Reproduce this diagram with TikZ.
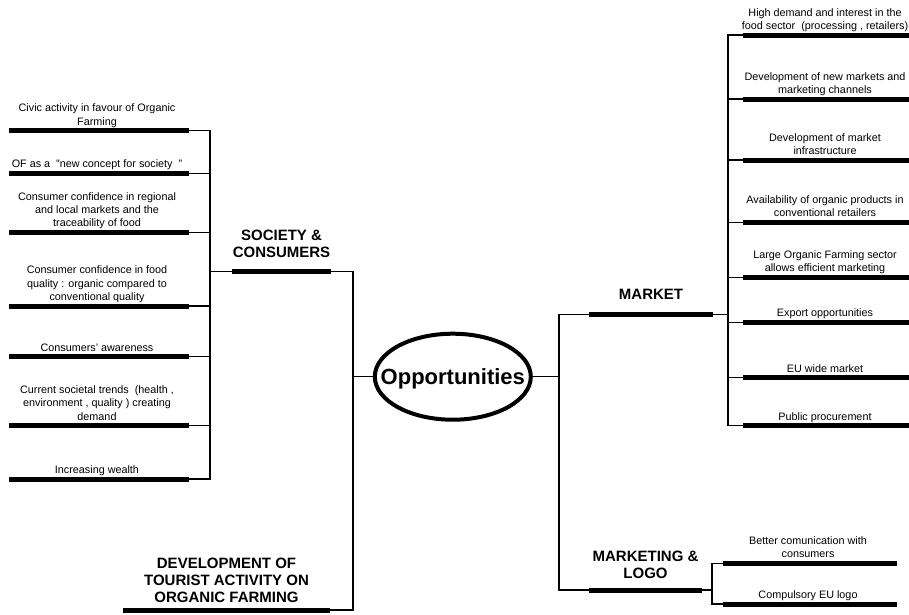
\documentclass[tikz,border=0pt]{standalone}
\usepackage{fontspec}
\setmainfont{Liberation Sans}
\usetikzlibrary{shapes.geometric}
\begin{document}
\begin{tikzpicture}[x=1pt,y=-1pt,
  bar/.style={rectangle, fill=black, draw=none, minimum height=5pt, inner sep=0pt, outer sep=0pt},
  conn/.style={line width=1.2pt, line join=miter},
  leaf/.style={font=\fontsize{10.8}{13.3}\selectfont, align=center, inner sep=0pt, text depth=2pt, anchor=south},
  head/.style={font=\fontsize{15}{17}\selectfont\bfseries, align=center, inner sep=0pt, text depth=0pt, anchor=south}]
\useasboundingbox (0,0) rectangle (909,614);

% trunk coordinates
\coordinate (tL) at (210,0);
\coordinate (t0) at (353,0);
\coordinate (t1) at (559,0);
\coordinate (tM) at (728,0);
\coordinate (tB) at (712,0);

% centre
\node[ellipse, draw, line width=4pt, minimum width=156pt, minimum height=86pt, inner sep=0pt] (O) at (452.8,376.7) {};
\node[font=\fontsize{22}{24}\selectfont\bfseries, inner sep=0pt, anchor=base] (Ot) at ([yshift=-8pt]O.center) {Opportunities};

% left leaves
\node[bar, minimum width=180pt] (L1) at (99,130.7) {};
\node[bar, minimum width=180pt] (L2) at (99,173.3) {};
\node[bar, minimum width=180pt] (L3) at (99,232.3) {};
\node[bar, minimum width=180pt] (L4) at (99,306) {};
\node[bar, minimum width=180pt] (L5) at (99,356.7) {};
\node[bar, minimum width=180pt] (L6) at (99,425.7) {};
\node[bar, minimum width=180pt] (L7) at (99,479) {};
\node[leaf] (L1t) at ([xshift=-2pt,yshift=1pt]L1.north) {Civic activity in favour of Organic\\Farming};
\node[leaf] (L2t) at ([xshift=-2pt,yshift=1pt]L2.north) {OF as a ~"new concept for society~~"};
\node[leaf] (L3t) at ([xshift=-2pt,yshift=1pt]L3.north) {Consumer confidence in regional\\and local markets and the\\traceability of food};
\node[leaf] (L4t) at ([xshift=-2pt,yshift=1pt]L4.north) {Consumer confidence in food\\quality : organic compared to\\conventional quality};
\node[leaf] (L5t) at ([xshift=-2pt,yshift=1pt]L5.north) {Consumers' awareness};
\node[leaf] (L6t) at ([xshift=-2pt,yshift=1pt]L6.north) {Current societal trends~ (health ,\\environment , quality ) creating\\demand};
\node[leaf] (L7t) at ([xshift=-2pt,yshift=1pt]L7.north) {Increasing wealth};

% society & consumers
\node[bar, minimum width=99pt] (SC) at (281.5,271.7) {};
\node[head] (SCt) at ([yshift=11.2pt]SC.north) {SOCIETY \&\\CONSUMERS};

% tourist
\node[bar, minimum width=207pt] (DT) at (226.5,610) {};
\node[head] (DTt) at ([yshift=4.5pt]DT.north) {DEVELOPMENT OF\\TOURIST ACTIVITY ON\\ORGANIC FARMING};

% market
\node[bar, minimum width=124pt] (MK) at (651,314.3) {};
\node[head] (MKt) at ([yshift=11.8pt]MK.north) {MARKET};

% right leaves
\node[bar, minimum width=172pt] (R1) at (829,35) {};
\node[bar, minimum width=172pt] (R2) at (829,99) {};
\node[bar, minimum width=172pt] (R3) at (829,160) {};
\node[bar, minimum width=172pt] (R4) at (829,222.3) {};
\node[bar, minimum width=172pt] (R5) at (829,277.3) {};
\node[bar, minimum width=172pt] (R6) at (829,322.3) {};
\node[bar, minimum width=172pt] (R7) at (829,377.7) {};
\node[bar, minimum width=172pt] (R8) at (829,425.7) {};
\node[leaf] (R1t) at ([xshift=-4pt,yshift=1pt]R1.north) {High demand and interest in the\\food sector~ (processing , retailers)};
\node[leaf] (R2t) at ([xshift=-4pt,yshift=1pt]R2.north) {Development of new markets and\\marketing channels};
\node[leaf] (R3t) at ([xshift=-4pt,yshift=1pt]R3.north) {Development of market\\infrastructure};
\node[leaf] (R4t) at ([xshift=-4pt,yshift=1pt]R4.north) {Availability of organic products in\\conventional retailers};
\node[leaf] (R5t) at ([xshift=-4pt,yshift=1pt]R5.north) {Large Organic Farming sector\\allows efficient marketing};
\node[leaf] (R6t) at ([xshift=-4pt,yshift=1pt]R6.north) {Export opportunities};
\node[leaf] (R7t) at ([xshift=-4pt,yshift=1pt]R7.north) {EU wide market};
\node[leaf] (R8t) at ([xshift=-4pt,yshift=1pt]R8.north) {Public procurement};

% marketing & logo
\node[bar, minimum width=113pt] (ML) at (645.5,590) {};
\node[head] (MLt) at ([yshift=8.5pt]ML.north) {MARKETING \&\\LOGO};
\node[bar, minimum width=174pt] (B1) at (810,563.3) {};
\node[bar, minimum width=174pt] (B2) at (810,604) {};
\node[leaf] (B1t) at ([xshift=-2pt,yshift=1pt]B1.north) {Better comunication with\\consumers};
\node[leaf] (B2t) at ([xshift=-2pt,yshift=1pt]B2.north) {Compulsory EU logo};

% connectors
\draw[conn] (L1.east) -- (L1.east -| tL) -- (L7.east -| tL) -- (L7.east);
\foreach \n in {L2,L3,L4,L5,L6} \draw[conn] (\n.east) -- (\n.east -| tL);
\draw[conn] (SC.west) -- (SC.west -| tL);

\draw[conn] (SC.east) -- (SC.east -| t0) -- (DT.east -| t0) -- (DT.east);
\draw[conn] (O.west) -- (O.west -| t0);

\draw[conn] (O.east) -- (O.east -| t1);
\draw[conn] (MK.west) -- (MK.west -| t1) -- (ML.west -| t1) -- (ML.west);

\draw[conn] (MK.east) -- (MK.east -| tM);
\draw[conn] (R1.west) -- (R1.west -| tM) -- (R8.west -| tM) -- (R8.west);
\foreach \n in {R2,R3,R4,R5,R6,R7} \draw[conn] (\n.west) -- (\n.west -| tM);

\draw[conn] (ML.east) -- (ML.east -| tB);
\draw[conn] (B1.west) -- (B1.west -| tB) -- (B2.west -| tB) -- (B2.west);
\end{tikzpicture}
\end{document}
